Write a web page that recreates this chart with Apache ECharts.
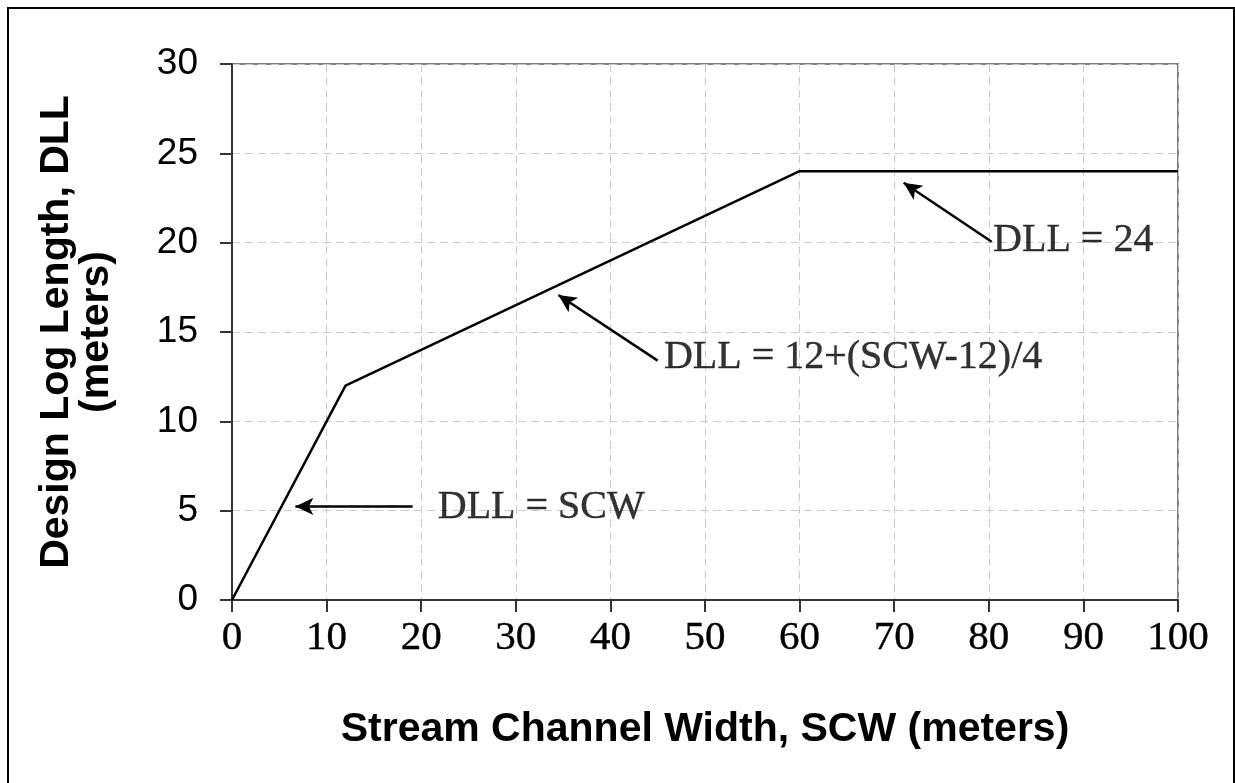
<!DOCTYPE html>
<html>
<head>
<meta charset="utf-8">
<script src="https://cdn.jsdelivr.net/npm/echarts@6/dist/echarts.min.js"></script>
<style>html,body{margin:0;padding:0;background:#fff;}#c{width:1235px;height:783px;}</style>
</head>
<body>
<div id="c"></div>
<script>
// Data
var scw = [0, 12, 60, 100];
var dll = [0, 12, 24, 24];
var xTicks = [0, 10, 20, 30, 40, 50, 60, 70, 80, 90, 100];
var yTicks = [0, 5, 10, 15, 20, 25, 30];
var annoText = ['DLL = SCW', 'DLL = 12+(SCW-12)/4', 'DLL = 24'];
var annoTextPos = [[21.7, 5.2], [45.6, 13.6], [80.4, 20.1]];
var arrowFrom = [[19.1, 5.24], [45.0, 13.4], [80.3, 20.05]];
var arrowTo = [[6.7, 5.24], [34.5, 17.07], [71.0, 23.35]];

var chart = echarts.init(document.getElementById('c'));
var lineData = scw.map(function (x, i) { return [x, dll[i]]; });
var markLines = arrowFrom.map(function (p, i) {
  return [{ coord: p, symbol: 'none' }, { coord: arrowTo[i], symbol: 'arrow' }];
});
var labelPts = annoTextPos.map(function (p, i) {
  return { value: p, name: annoText[i] };
});

chart.setOption({
  animation: false,
  backgroundColor: '#fff',
  graphic: [{
    type: 'rect', shape: { x: 8, y: 8, width: 1226, height: 820 },
    style: { fill: 'none', stroke: '#000', lineWidth: 2 }, z: -1
  }],
  grid: { left: 232, right: 57, top: 64, bottom: 183, show: true, borderColor: '#808080', borderWidth: 2, backgroundColor: 'transparent' },
  xAxis: {
    type: 'value', min: 0, max: 100, interval: 10,
    name: 'Stream Channel Width, SCW (meters)', nameLocation: 'middle', nameGap: 109,
    nameTextStyle: { fontFamily: 'Liberation Sans', fontWeight: 'bold', fontSize: 41, color: '#000' },
    axisLine: { show: true, lineStyle: { color: '#333', width: 2 } },
    axisTick: { show: true, length: 12, lineStyle: { color: '#333', width: 2 } },
    axisLabel: { fontFamily: 'Liberation Serif', fontSize: 41, color: '#000', margin: 18,
      textBorderColor: '#000', textBorderWidth: 0.4,
      formatter: function (v) { return xTicks.indexOf(v) >= 0 ? String(v) : ''; } },
    splitLine: { show: true, lineStyle: { color: '#c8c8c8', width: 1, type: [8, 5] } }
  },
  yAxis: {
    type: 'value', min: 0, max: 30, interval: 5,
    name: 'Design Log Length, DLL\n(meters)', nameLocation: 'middle', nameGap: 115,
    nameTextStyle: { fontFamily: 'Liberation Sans', fontWeight: 'bold', fontSize: 41, color: '#000', lineHeight: 40 },
    axisLine: { show: true, lineStyle: { color: '#333', width: 2 } },
    axisTick: { show: true, length: 12, lineStyle: { color: '#333', width: 2 } },
    axisLabel: { fontFamily: 'Liberation Sans', fontSize: 37, color: '#000', margin: 34,
      formatter: function (v) { return yTicks.indexOf(v) >= 0 ? String(v) : ''; } },
    splitLine: { show: true, lineStyle: { color: '#c8c8c8', width: 1, type: [8, 5] } }
  },
  series: [{
    type: 'line', data: lineData, symbol: 'none',
    lineStyle: { color: '#000', width: 2.5 },
    markLine: {
      silent: true, symbolSize: [13, 18], animation: false,
      label: { show: false },
      lineStyle: { color: '#000', width: 2.5, type: 'solid' },
      emphasis: { disabled: true },
      data: markLines
    }
  }, {
    type: 'scatter', data: labelPts, symbolSize: 1, itemStyle: { color: 'transparent' },
    silent: true,
    label: { show: true, position: 'right', distance: 0, formatter: '{b}',
      fontFamily: 'Liberation Serif', fontSize: 40, color: '#000',
      textBorderColor: '#000', textBorderWidth: 0.4 }
  }]
});
</script>
</body>
</html>
